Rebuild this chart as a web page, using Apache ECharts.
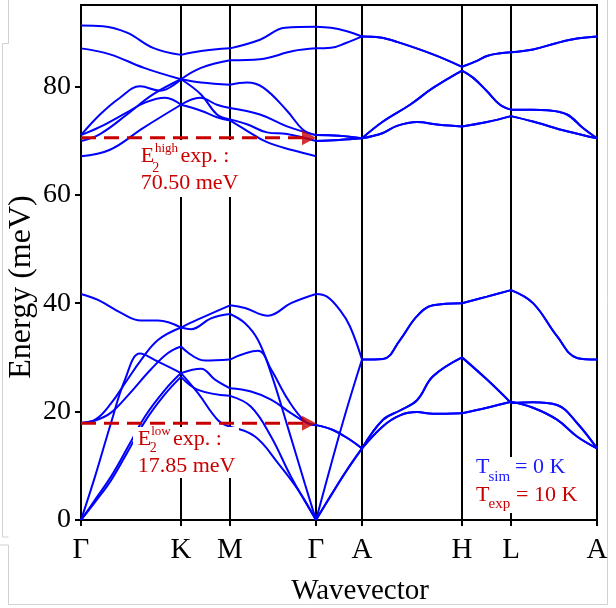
<!DOCTYPE html>
<html><head><meta charset="utf-8">
<script src="https://cdn.jsdelivr.net/npm/echarts@6/dist/echarts.min.js"></script>
<style>html,body{margin:0;padding:0;background:#fff}#c{width:616px;height:608px}</style>
</head><body><div id="c"></div>
<script>
// ---- data ----
const kPoints = [0, 100, 149, 235, 281, 381, 430, 516];
const kLabels = ['Γ', 'K', 'M', 'Γ', 'A', 'H', 'L', 'A'];
const yTicks = [0, 20, 40, 60, 80];
const e2High = 70.50;
const e2Low = 17.85;

// optical (high) branches: [wavevector, energy meV]
const bandA = [[0,91.2],[22,91.1],[46,89.9],[72,87.1],[100,85.8],[120,86.5],[149,87.0],[179,88.6],[204,90.8],[235,91.0],[250,90.8],[265,90.2],[281,89.2],[299,89.0],[316,88.2],[352,85.9],[381,83.6],[396,84.7],[406,85.6],[419,86.1],[430,86.3],[452,86.8],[476,88.0],[496,88.8],[516,89.2]];
const bandB = [[0,87.0],[29,85.9],[63,83.4],[100,81.3],[120,83.4],[149,84.8],[179,85.0],[212,86.5],[235,87.0],[250,87.1],[265,88.0],[281,89.2],[299,89.0],[316,88.2],[352,85.9],[381,83.6],[396,84.7],[406,85.6],[419,86.1],[430,86.3],[452,86.8],[476,88.0],[496,88.8],[516,89.2]];
const bandC = [[0,71.0],[19,74.8],[39,77.9],[59,80.0],[79,79.2],[100,81.3],[120,80.7],[149,80.3],[166,80.7],[182,79.8],[206,75.5],[222,72.0],[235,71.0],[258,70.9],[281,70.4],[302,73.5],[329,76.6],[352,79.7],[381,82.9],[392,81.6],[406,79.1],[419,76.6],[430,75.7],[452,75.7],[466,75.6],[486,74.8],[502,72.3],[516,70.4]];
const bandD = [[0,69.9],[19,71.2],[46,74.8],[72,78.5],[100,81.3],[120,78.5],[136,74.8],[149,73.9],[166,73.0],[186,71.5],[206,71.2],[235,69.9],[258,70.1],[281,70.4],[302,73.5],[329,76.6],[352,79.7],[381,82.9],[392,81.6],[406,79.1],[419,76.6],[430,75.7],[452,75.7],[466,75.6],[486,74.8],[502,72.3],[516,70.4]];
const bandE = [[0,71.0],[19,72.5],[46,75.2],[64,77.0],[84,77.9],[100,76.6],[119,77.9],[136,76.6],[149,76.0],[179,74.8],[206,72.6],[235,71.0],[258,70.9],[281,70.4],[302,71.4],[316,72.7],[336,73.4],[358,72.9],[381,72.6],[406,73.4],[430,74.5],[452,73.5],[486,71.7],[516,70.4]];
const bandF = [[0,67.1],[29,68.3],[62,72.3],[100,76.6],[120,75.5],[136,74.3],[149,73.7],[166,71.8],[186,69.7],[212,68.2],[235,67.1],[235,69.9],[258,70.1],[281,70.4],[302,71.4],[316,72.7],[336,73.4],[358,72.9],[381,72.6],[406,73.4],[430,74.5],[452,73.5],[486,71.7],[516,70.4]];

// acoustic + low optical branches
const bandL1 = [[0,41.7],[17,40.6],[40,38.2],[60,36.8],[77,36.8],[100,35.5],[117,37.0],[149,39.6],[164,39.1],[187,37.7],[210,40.0],[235,41.7],[246,41.2],[259,38.7],[269,35.7],[281,29.6],[302,29.7],[319,33.2],[336,37.6],[352,39.6],[381,40.0],[406,41.2],[430,42.4],[452,40.0],[476,33.9],[496,29.9],[516,29.6]];
const bandL2 = [[0,17.9],[15,18.6],[30,21.5],[45,25.5],[60,29.5],[77,33.2],[100,35.5],[110,35.2],[130,37.2],[149,38.0],[164,36.3],[177,33.2],[190,27.1],[207,17.0],[224,6.6],[235,0],[250,10.2],[265,20.0],[281,29.6],[302,29.7],[319,33.2],[336,37.6],[352,39.6],[381,40.0],[406,41.2],[430,42.4],[452,40.0],[476,33.9],[496,29.9],[516,29.6]];
const bandL3 = [[0,17.9],[15,18.4],[30,19.8],[47,23.0],[70,27.8],[87,30.8],[100,32.0],[124,29.4],[149,29.6],[177,31.2],[190,27.8],[207,22.2],[224,18.2],[235,17.5],[252,16.6],[269,14.8],[281,13.2],[302,18.5],[319,20.2],[336,22.1],[352,26.5],[381,30.0],[406,25.9],[430,21.6],[452,21.7],[476,21.2],[496,17.9],[516,13.2]];
const bandL4 = [[0,0],[14,8.0],[30,17.9],[44,25.9],[59,30.7],[77,29.2],[100,27.1],[120,27.9],[134,25.9],[149,24.3],[170,23.7],[190,22.2],[210,19.7],[227,17.8],[235,17.5],[252,16.6],[269,14.8],[281,13.2],[302,18.5],[319,20.2],[336,22.1],[352,26.5],[381,30.0],[406,25.9],[430,21.6],[452,21.7],[476,21.2],[496,17.9],[516,13.2]];
const bandL5 = [[0,0],[14,3.7],[30,8.0],[47,13.5],[64,19.1],[84,24.0],[100,27.1],[117,23.4],[137,18.4],[149,17.2],[174,15.4],[197,10.5],[217,5.6],[235,0],[250,4.6],[265,9.0],[281,13.2],[302,17.3],[319,19.3],[336,19.9],[352,19.6],[381,19.7],[406,20.7],[430,21.8],[452,20.7],[476,18.5],[496,15.4],[516,13.2]];
const bandL6 = [[0,0],[14,3.3],[30,7.3],[47,12.7],[64,18.2],[84,23.2],[100,26.4],[117,24.0],[149,22.9],[170,20.9],[190,15.4],[210,8.0],[235,0],[250,4.5],[265,8.9],[281,13.2],[302,17.3],[319,19.3],[336,19.9],[352,19.6],[381,19.7],[406,20.7],[430,21.8],[452,20.7],[476,18.5],[496,15.4],[516,13.2]];

const bands = [bandA, bandB, bandC, bandD, bandE, bandF, bandL1, bandL2, bandL3, bandL4, bandL5, bandL6];

// ---- build ----
const BLUE = '#0000ff', RED = '#c80000', TBLUE = '#1a1aff', FONT = '"Liberation Serif", "Times New Roman", serif';
const yMax = 95;

function splitBand(band) {
  const out = []; let cur = [band[0]];
  for (let i = 1; i < band.length; i++) {
    const p = band[i];
    if (p[0] === cur[cur.length - 1][0]) { if (cur.length > 1) out.push(cur); cur = [p]; continue; }
    cur.push(p);
    if (kPoints.includes(p[0]) && i < band.length - 1) { out.push(cur); cur = [p]; }
  }
  if (cur.length > 1) out.push(cur);
  return out;
}

const series = [];
kPoints.slice(1, -1).forEach(k => {
  series.push({ type: 'line', data: [[k, 0], [k, yMax]], symbol: 'none', silent: true, z: 1,
    lineStyle: { color: '#000', width: 2 }, animation: false });
});
bands.forEach(b => splitBand(b).forEach(seg => {
  series.push({ type: 'line', data: seg, smooth: 0.4, symbol: 'none', silent: true, z: 3,
    lineStyle: { color: BLUE, width: 2 }, animation: false });
}));
// experimental E2 arrows: dashed shaft + triangular head
const headLen = 7;
[e2High, e2Low].forEach(e => {
  series.push({ type: 'line', data: [[0, e], [kPoints[3] - headLen, e]], symbol: 'none', silent: true, z: 30,
    lineStyle: { color: RED, width: 3, type: [15, 8] }, animation: false });
  series.push({ type: 'scatter', data: [[kPoints[3] - headLen, e]], symbol: 'triangle', symbolSize: [15, 14], symbolRotate: -90,
    silent: true, z: 31, itemStyle: { color: RED }, animation: false });
});

function T(x, y, text, size, color, extra) {
  const el = { type: 'text', x: x, y: y, z: 20, silent: true,
    style: { text: text, font: size + 'px ' + FONT, fill: color, align: 'left', verticalAlign: 'middle' } };
  if (extra) { if (extra.align) el.style.align = extra.align; if (extra.rotation) el.rotation = extra.rotation; }
  return el;
}
function R(x, y, w, h) { return { type: 'rect', z: 15, silent: true, shape: { x: x, y: y, width: w, height: h }, style: { fill: '#fff' } }; }
function Lg(x1, y1, x2, y2) { return { type: 'line', z: 0, silent: true, shape: { x1: x1, y1: y1, x2: x2, y2: y2 }, style: { stroke: '#d2d2d2', lineWidth: 1 } }; }

const graphics = [
  R(134, 140, 104, 57), R(133, 427, 106, 51), R(471, 457, 113, 56),
  T(140.7, 155.9, 'E', 22, RED), T(152.3, 168.6, '2', 14, RED), T(155, 148.2, 'high', 13, RED), T(180.5, 155.9, 'exp. :', 22, RED),
  T(140.7, 183.3, '70.50 meV', 22, RED),
  T(137.7, 439.3, 'E', 22, RED), T(149.8, 448.6, '2', 14, RED), T(151.2, 431.6, 'low', 13, RED), T(173, 439.3, 'exp. :', 22, RED),
  T(137.7, 466.6, '17.85 meV', 22, RED),
  T(476, 467.6, 'T', 22, TBLUE), T(488.5, 476.6, 'sim', 15, TBLUE), T(515, 467.6, '= 0 K', 22, TBLUE),
  T(476, 495.3, 'T', 22, RED), T(488.5, 504, 'exp', 15, RED), T(516, 495.3, '= 10 K', 22, RED),
  T(360, 591, 'Wavevector', 29, '#000', { align: 'center' }),
  T(22, 287, 'Energy (meV)', 32, '#000', { align: 'center', rotation: Math.PI / 2 }),
  Lg(607.5, 0, 607.5, 604.5), Lg(8, 604.5, 607.5, 604.5), Lg(8.5, 545, 8.5, 604.5), Lg(0, 545, 8.5, 545),
  Lg(8.5, 0, 8.5, 43.5), Lg(2.5, 43.5, 8.5, 43.5), Lg(2.5, 43.5, 2.5, 537), Lg(2.5, 537, 8.5, 537)
];

const chart = echarts.init(document.getElementById('c'), null, { renderer: 'canvas' });
chart.setOption({
  animation: false,
  backgroundColor: '#fff',
  grid: { left: 81, right: 19, top: 5, bottom: 88, show: true, borderColor: '#000', borderWidth: 2, backgroundColor: 'transparent' },
  xAxis: { type: 'value', min: 0, max: kPoints[kPoints.length - 1],
    axisLine: { show: true, onZero: false, lineStyle: { color: '#000', width: 2 } },
    axisTick: { show: true, customValues: kPoints, inside: false, length: 6, lineStyle: { color: '#000', width: 2 } },
    axisLabel: { customValues: kPoints, formatter: v => kLabels[kPoints.indexOf(v)], fontFamily: FONT, fontSize: 29, color: '#000', margin: 16 },
    splitLine: { show: false } },
  yAxis: { type: 'value', min: 0, max: yMax,
    axisLine: { show: true, lineStyle: { color: '#000', width: 2 } },
    axisTick: { show: true, customValues: yTicks, inside: false, length: 6, lineStyle: { color: '#000', width: 2 } },
    axisLabel: { customValues: yTicks, fontFamily: FONT, fontSize: 28, color: '#000', margin: 10 },
    splitLine: { show: false } },
  series: series,
  graphic: { elements: graphics }
});
</script></body></html>
